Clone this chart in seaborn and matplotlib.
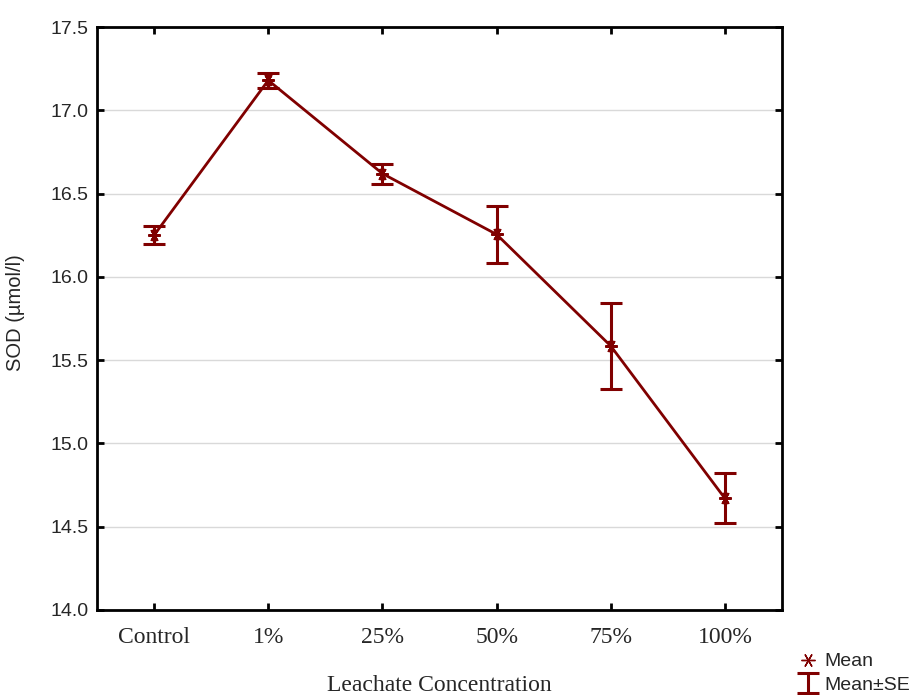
import matplotlib
matplotlib.use("Agg")
import matplotlib.pyplot as plt
import seaborn as sns
import pandas as pd
from matplotlib.lines import Line2D

# datos
concentracion = ["Control", "1%", "25%", "50%", "75%", "100%"]
media = [16.25, 17.18, 16.62, 16.255, 15.585, 14.67]
error_std = [0.055, 0.045, 0.06, 0.17, 0.26, 0.15]

df = pd.DataFrame({"conc": concentracion, "sod": media, "se": error_std})

color = "#800000"
asterisco = (6, 2, 90)

sns.set_style("white")
fig = plt.figure(figsize=(9.14, 6.95), dpi=100)
ax = fig.add_axes([97 / 914, 85 / 695, 685 / 914, 583 / 695])

sns.pointplot(data=df, x="conc", y="sod", color=color, markers=asterisco,
              linestyles="-", linewidth=2, markersize=9, ax=ax,
              order=concentracion)
eb = ax.errorbar(range(len(concentracion)), df["sod"], yerr=df["se"], fmt="none",
                 ecolor=color, elinewidth=2.2, capsize=8, capthick=2.2, zorder=3)

ax.set_xlim(-0.5, 5.5)
ax.set_ylim(14.0, 17.5)
ax.set_yticks([14.0, 14.5, 15.0, 15.5, 16.0, 16.5, 17.0, 17.5])
ax.set_yticklabels([f"{v:.1f}" for v in ax.get_yticks()],
                   family="Liberation Sans", fontsize=14)
ax.set_xticks(range(len(concentracion)))
ax.set_xticklabels(concentracion, family="Liberation Serif", fontsize=17)
ax.yaxis.grid(True, color="#d9d9d9", linewidth=1)
ax.set_axisbelow(True)
for s in ax.spines.values():
    s.set_color("black")
    s.set_linewidth(2)
ax.tick_params(direction="in", length=5, width=2, top=True, right=True,
               bottom=True, left=True, color="black")
ax.tick_params(axis="x", pad=12)
ax.tick_params(axis="y", pad=6)

ax.set_xlabel("Leachate Concentration", family="Liberation Serif", fontsize=17)
ax.xaxis.set_label_coords(0.5, -0.111)
ax.set_ylabel("SOD (\u00b5mol/l)", family="Liberation Sans", fontsize=14.5)
ax.yaxis.set_label_coords(-0.105, 0.51)

h_media = Line2D([], [], color=color, marker=asterisco, markersize=10,
                 linestyle="none")
fig.legend([h_media, eb], ["Mean", "Mean\u00b1SE"], loc="upper left",
           bbox_to_anchor=(790 / 914, 1 - 645 / 695), frameon=False,
           prop={"family": "Liberation Sans", "size": 14},
           handlelength=1.0, handletextpad=0.35, labelspacing=0.3,
           borderaxespad=0)

fig.savefig("out.png", dpi=100)
